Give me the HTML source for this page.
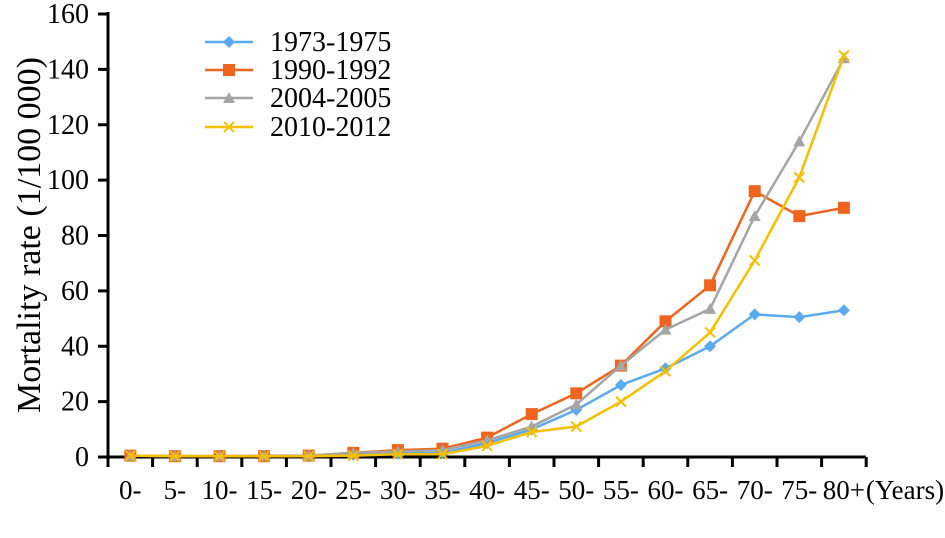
<!DOCTYPE html><html><head><style>body{margin:0;background:#fff}</style></head><body>
<svg width="945" height="533" xmlns="http://www.w3.org/2000/svg" font-family="Liberation Serif, serif">
<defs>
<path id="d" d="M0,-6 L6,0 L0,6 L-6,0Z" fill="#5aaaf0"/>
<rect id="s" x="-6" y="-6" width="12" height="12" fill="#f0641e"/>
<path id="t" d="M0,-6 L6,5 L-6,5Z" fill="#a5a5a5"/>
<path id="x" d="M-5,-5 L5,5 M5,-5 L-5,5" stroke="#f5c000" stroke-width="2"/>
</defs>
<g stroke="#000" stroke-width="3">
<line x1="108" y1="12" x2="108" y2="460"/>
<line x1="106" y1="457" x2="866" y2="457"/>
</g>
<g stroke="#000" stroke-width="3" id="yt"></g>
<g font-size="28" text-anchor="end" id="yl"></g>
<g font-size="27" text-anchor="middle" id="xl"></g>
<text transform="translate(40,235) rotate(-90)" font-size="34" text-anchor="middle">Mortality rate (1/100 000)</text>
<g id="series"></g>
<g font-size="28">
<line x1="205" y1="42" x2="253" y2="42" stroke="#5aaaf0" stroke-width="2.5"/><use href="#d" x="229" y="42"/><text x="270" y="51">1973-1975</text>
<line x1="205" y1="70" x2="253" y2="70" stroke="#f0641e" stroke-width="2.5"/><use href="#s" x="229" y="70"/><text x="270" y="79">1990-1992</text>
<line x1="205" y1="98" x2="253" y2="98" stroke="#a5a5a5" stroke-width="2.5"/><use href="#t" x="229" y="98"/><text x="270" y="107">2004-2005</text>
<line x1="205" y1="127" x2="253" y2="127" stroke="#f5c000" stroke-width="2.5"/><use href="#x" x="229" y="127"/><text x="270" y="136">2010-2012</text>
</g>
</svg>
<script>
const NS="http://www.w3.org/2000/svg";
function el(p,t,a,txt){const e=document.createElementNS(NS,t);for(const k in a)e.setAttribute(k,a[k]);if(txt!=null)e.textContent=txt;document.getElementById(p).appendChild(e);return e;}
const Y=v=>457-v*443/160, X=i=>130.3+i*44.6;
for(let v=0;v<=160;v+=20){el("yt","line",{x1:98,x2:108,y1:Y(v),y2:Y(v)});el("yl","text",{x:89,y:Y(v)+9},v);}
for(let i=0;i<=17;i++)el("yt","line",{x1:108+i*44.6,x2:108+i*44.6,y1:457,y2:467});
const labs=["0-","5-","10-","15-","20-","25-","30-","35-","40-","45-","50-","55-","60-","65-","70-","75-","80+"];
labs.forEach((l,i)=>el("xl","text",{x:X(i),y:499},l));
el("xl","text",{x:905,y:499},"(Years)");
const S=[
["#5aaaf0","d",[0.5,0.3,0.3,0.3,0.3,0.8,1.2,1.5,5,10,17,26,32,40,51.5,50.5,53]],
["#f0641e","s",[0.5,0.3,0.3,0.3,0.5,1.5,2.5,3,7,15.5,23,33,49,62,96,87,90]],
["#a5a5a5","t",[0.5,0.3,0.3,0.5,0.5,1.5,2,2.5,6,11,19,33,46,53.5,87,114,144]],
["#f5c000","x",[0.5,0.3,0.3,0.3,0.3,0.5,1,1,4,9,11,20,31,45,71,101,145]]];
S.forEach(([c,m,d])=>{el("series","polyline",{points:d.map((v,i)=>X(i)+","+Y(v)).join(" "),fill:"none",stroke:c,"stroke-width":2.5});
d.forEach((v,i)=>el("series","use",{href:"#"+m,x:X(i),y:Y(v)}));});
</script>
</body></html>
